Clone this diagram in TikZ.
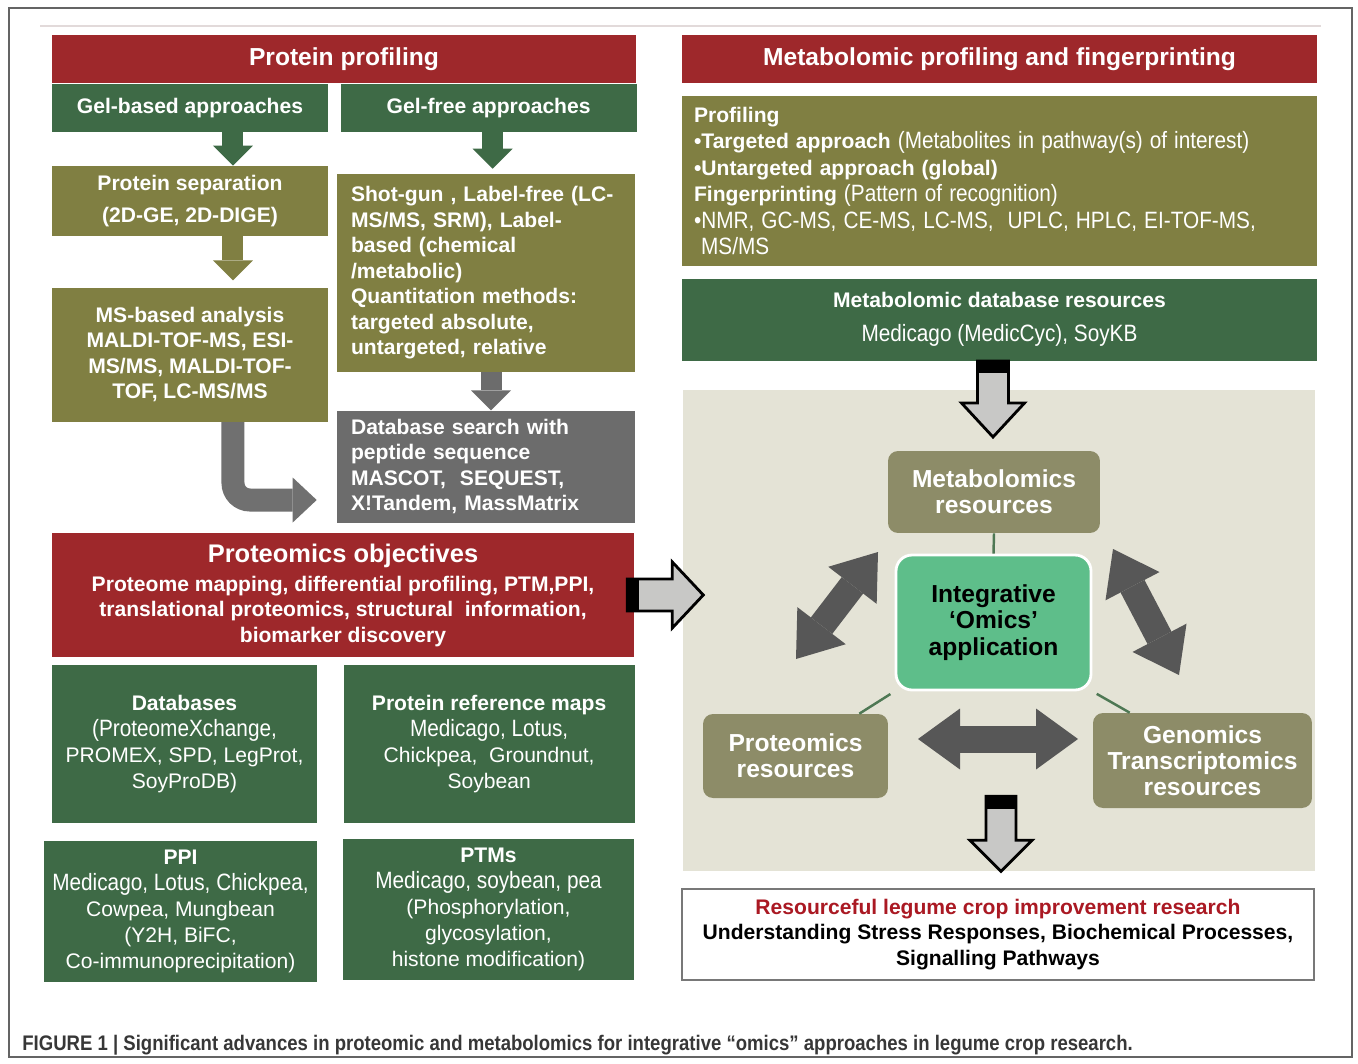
\documentclass[tikz,border=0pt]{standalone}
\usepackage{fontspec}
\setmainfont{Liberation Sans}
\newfontfamily\capfont[FakeStretch=0.88]{Liberation Sans}
\newfontfamily\condfont[FakeStretch=0.88,Scale=1.12]{Liberation Sans}
\usetikzlibrary{positioning,calc,arrows.meta}
\definecolor{pred}{RGB}{158,40,43}
\definecolor{pgrn}{RGB}{62,106,70}
\definecolor{polv}{RGB}{128,127,66}
\definecolor{pgry}{RGB}{108,108,108}
\definecolor{cgray}{RGB}{112,112,112}
\definecolor{pbeige}{RGB}{228,227,214}
\definecolor{resol}{RGB}{141,140,104}
\definecolor{intg}{RGB}{94,190,138}
\definecolor{darr}{RGB}{87,87,87}
\definecolor{lgray}{RGB}{200,200,198}
\definecolor{lgrn}{RGB}{78,120,84}
\definecolor{bordgray}{RGB}{120,120,120}
\definecolor{resred}{RGB}{170,25,35}
\definecolor{capgray}{RGB}{55,55,55}
\definecolor{fgray}{RGB}{100,100,100}
\definecolor{topline}{RGB}{226,218,218}

\begin{document}
\begin{tikzpicture}[x=0.02cm,y=-0.02cm,
   box/.style={inner sep=0pt,text=white,align=center,font=\fontsize{12}{14.5}\selectfont\bfseries},
   hd/.style={box,font=\fontsize{14}{16}\selectfont\bfseries},
   plain/.style={box,font=\fontsize{12}{14.7}\selectfont},
   resbox/.style={box,fill=resol,rounded corners=0.2cm,font=\fontsize{14}{14.8}\selectfont\bfseries},
   blk/.style={line width=0.42cm,-{Triangle[length=0.4cm,width=0.8cm,line width=0pt]}},
   dbl/.style={draw=darr,line width=0.54cm,{Triangle[length=0.84cm,width=1.22cm,line width=0pt]}-{Triangle[length=0.84cm,width=1.22cm,line width=0pt]}},
   hollow/.style={draw=black,fill=lgray,line width=1.6pt,line join=miter},
   link/.style={draw=lgrn,line width=1.4pt}]
   \useasboundingbox (0,0) rectangle (1358,1064);
   \fill[white] (0,0) rectangle (1358,1064);
   \draw[fgray,line width=1pt] (9,8) rectangle (1352,1057);
   \draw[topline,line width=1.2pt] (40,26) -- (1321,26);

   \node[hd,fill=pred,minimum width=11.68cm,minimum height=0.96cm] (pp) at (344,59) {Protein profiling};
   \node[box,fill=pgrn,minimum width=5.52cm,minimum height=0.96cm] (gelb) at (190,108) {Gel-based approaches};
   \node[box,fill=pgrn,minimum width=5.92cm,minimum height=0.96cm,right=0.24cm of gelb] (gelf) {Gel-free approaches};
   \node[box,fill=polv,minimum width=5.52cm,minimum height=1.4cm] (psep) at (190,201) {Protein separation\\[4pt](2D-GE, 2D-DIGE)};
   \node[box,fill=polv,minimum width=5.52cm,minimum height=2.68cm,below=1.02cm of psep] (msa) {MS-based analysis\\MALDI-TOF-MS, ESI-\\MS/MS, MALDI-TOF-\\TOF, LC-MS/MS};
   \node[box,fill=polv,align=left,text width=5.4cm,minimum width=5.96cm,minimum height=3.96cm] (shot) at (486,273) {Shot-gun , Label-free (LC-\\MS/MS, SRM), Label-\\based (chemical\\/metabolic)\\Quantitation methods:\\targeted absolute,\\untargeted, relative};
   \node[box,fill=pgry,align=left,text width=5.4cm,minimum width=5.96cm,minimum height=2.24cm,below=0.76cm of shot] (dbs) {Database search with\\peptide sequence\\MASCOT,~ SEQUEST,\\X!Tandem, MassMatrix};
   \node[box,fill=pred,minimum width=11.64cm,minimum height=2.48cm] (pobj) at (343,595) {{\fontsize{14.5}{16}\selectfont Proteomics objectives}\\[2pt]Proteome mapping, differential profiling, PTM,PPI,\\translational proteomics, structural~ information,\\biomarker discovery};
   \node[plain,fill=pgrn,minimum width=5.3cm,minimum height=3.16cm] (datab) at (184.5,744) {\textbf{Databases}\\\condfont(ProteomeXchange,\\PROMEX, SPD, LegProt,\\SoyProDB)};
   \node[plain,fill=pgrn,minimum width=5.82cm,minimum height=3.16cm,right=0.52cm of datab] (prmap) {\textbf{Protein reference maps}\\\condfont Medicago, Lotus,\\Chickpea,~ Groundnut,\\Soybean};
   \node[plain,fill=pgrn,minimum width=5.46cm,minimum height=2.82cm] (ppi) at (180.5,911.5) {\textbf{PPI}\\\condfont Medicago, Lotus, Chickpea,\\Cowpea, Mungbean\\(Y2H, BiFC,\\Co-immunoprecipitation)};
   \node[plain,fill=pgrn,minimum width=5.82cm,minimum height=2.82cm] (ptms) at (488.5,909.5) {\textbf{PTMs}\\\condfont Medicago, soybean, pea\\(Phosphorylation,\\glycosylation,\\histone modification)};

   \node[hd,fill=pred,minimum width=12.7cm,minimum height=0.96cm] (mp) at (999.5,59) {Metabolomic profiling and fingerprinting};
   \node[box,fill=polv,align=left,text width=12.22cm,minimum width=12.7cm,minimum height=3.4cm,font=\fontsize{12}{15}\selectfont\bfseries] (mprof) at (999.5,181) {Profiling\\\textbullet Targeted approach {\condfont\mdseries(Metabolites in pathway(s) of interest)}\\\textbullet Untargeted approach (global)\\Fingerprinting {\condfont\mdseries(Pattern of recognition)}\\{\condfont\mdseries\textbullet NMR, GC-MS, CE-MS, LC-MS,~ UPLC, HPLC, EI-TOF-MS,}\\{\condfont\mdseries~MS/MS}};
   \node[box,fill=pgrn,minimum width=12.7cm,minimum height=1.64cm,below=0.24cm of mprof] (mdb) {Metabolomic database resources\\[5pt]{\condfont\mdseries Medicago (MedicCyc), SoyKB}};

   \fill[pbeige] (683,390) rectangle (1315,871);
   \node[resbox,minimum width=4.24cm,minimum height=1.64cm] (meta) at (994,492) {Metabolomics\\resources};
   \node[box,fill=intg,draw=white,line width=1.6pt,rounded corners=0.32cm,text=black,minimum width=3.9cm,minimum height=2.7cm,font=\fontsize{14}{15}\selectfont\bfseries] (integ) at (993.5,622.5) {Integrative\\`Omics'\\application};
   \node[resbox,minimum width=3.7cm,minimum height=1.68cm] (prres) at (795.5,756) {Proteomics\\resources};
   \node[resbox,minimum width=4.38cm,minimum height=1.9cm] (genres) at (1202.5,760.5) {Genomics\\Transcriptomics\\resources};
   \node[box,fill=white,draw=bordgray,line width=0.8pt,text=black,minimum width=12.64cm,minimum height=1.82cm] (goal) at (998,934.5) {\textcolor{resred}{Resourceful legume crop improvement research}\\Understanding Stress Responses, Biochemical Processes,\\Signalling Pathways};
   \node[anchor=west,inner sep=0pt,text=capgray,font=\capfont\bfseries\fontsize{12}{14}\selectfont] (cap) at (22,1045) {FIGURE 1 | Significant advances in proteomic and metabolomics for integrative “omics” approaches in legume crop research.};

   \coordinate (l1) at (796,659);
   \coordinate (l2) at (878,552);
   \coordinate (r1) at (1113,549);
   \coordinate (r2) at (1179,675);
   \coordinate (h1) at (918,739);
   \coordinate (h2) at (1078,739);

    \draw[blk,draw=pgrn] ([xshift=0.86cm]gelb.south) -- ([xshift=0.86cm]psep.north);
    \draw[blk,draw=pgrn,shorten >=0.1cm] ([xshift=0.08cm]gelf.south) -- ([xshift=0.08cm]gelf.south |- shot.north);
    \draw[blk,draw=polv,shorten >=0.14cm] ([xshift=0.86cm]psep.south) -- ([xshift=0.86cm]msa.north);
    \draw[blk,draw=pgry] ([xshift=0.1cm]shot.south) -- ([xshift=0.1cm]dbs.north);
    \draw[draw=cgray,line width=0.46cm,rounded corners=0.34cm,-{Triangle[length=0.48cm,width=0.9cm,line width=0pt]}] ([xshift=0.86cm]msa.south) |- ($(dbs.south west)+(-20,-23)$);

    \draw[link] (meta.south) -- (integ.north);
    \draw[link,shorten <=0.1cm] (integ.south west) -- ([xshift=-0.58cm]prres.north east);
    \draw[link,shorten <=0.1cm] (integ.south east) -- ([xshift=0.74cm]genres.north west);
    \draw[dbl] (l1) -- (l2);
    \draw[dbl] (r1) -- (r2);
    \draw[dbl] (h1) -- (h2);

    \draw[hollow] (mdb.south) ++(-22,0) -- ++(31,0) -- ++(0,42) -- ++(16,0) -- ++(-31.5,34) -- ++(-31.5,-34) -- ++(16,0) -- cycle;
    \fill (mdb.south) ++(-22,0) rectangle ++(31,12);
    \draw[hollow] (pobj.east) ++(-7,-16) -- ++(45,0) -- ++(0,-17) -- ++(31,33) -- ++(-31,33) -- ++(0,-17) -- ++(-45,0) -- cycle;
    \fill (pobj.east) ++(-7,-16) rectangle ++(12,32);
    \draw[hollow] (goal.north) ++(-12,-92) -- ++(30,0) -- ++(0,44) -- ++(16,0) -- ++(-31,31) -- ++(-31,-31) -- ++(16,0) -- cycle;
    \fill (goal.north) ++(-12,-92) rectangle ++(30,13);
\end{tikzpicture}
\end{document}
